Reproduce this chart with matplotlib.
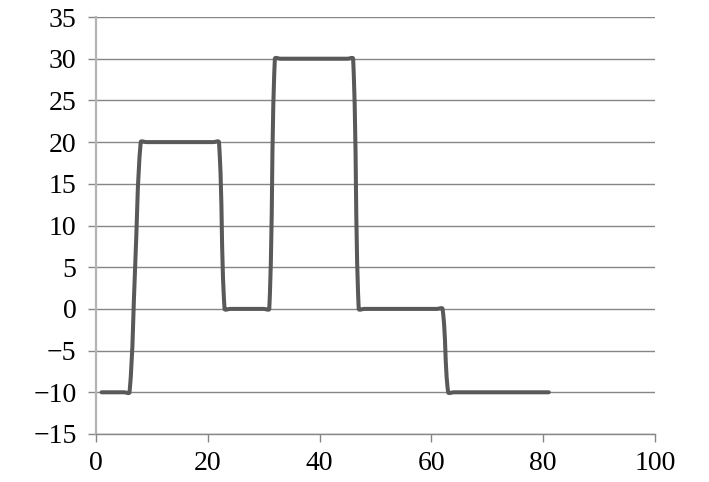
import numpy as np
import matplotlib
matplotlib.use("Agg")
import matplotlib.pyplot as plt
from matplotlib.path import Path
from matplotlib.patches import PathPatch

# Data
x_vals = list(range(1, 82))
y_vals = ([-10] * 6 + [5] + [20] * 15 + [0] * 9 + [30] * 15 + [0] * 16 + [-10] * 19)
x_ticks = [0, 20, 40, 60, 80, 100]
y_ticks = [-15, -10, -5, 0, 5, 10, 15, 20, 25, 30, 35]

plt.rcParams['font.family'] = ['Liberation Serif', 'DejaVu Serif']

fig = plt.figure(figsize=(7.09, 4.82), dpi=100)
ax = fig.add_axes([0.1354, 0.0996, 0.9238 - 0.1354, 0.9647 - 0.0996])
ax.set_xlim(0, 100)
ax.set_ylim(-15, 35)
ax.set_xticks(x_ticks)
ax.set_yticks(y_ticks)

grid_c = '#868686'
ax.grid(axis='y', color=grid_c, linewidth=1.0)
ax.set_axisbelow(True)
for s in ['top', 'right']:
    ax.spines[s].set_visible(False)
ax.spines['bottom'].set_color(grid_c)
ax.spines['bottom'].set_linewidth(1.0)
ax.spines['left'].set_color('#b4b4b4')
ax.spines['left'].set_linewidth(1.6)
ax.tick_params(axis='both', colors=grid_c, length=6, width=1.0, labelsize=20,
               labelcolor='black')
ax.tick_params(axis='y', pad=8)
ax.tick_params(axis='x', pad=6)

# Smoothed line (Excel-like) built as Bezier path through data points
fig.canvas.draw()
pts = ax.transData.transform(np.column_stack([x_vals, y_vals]).astype(float))
n = len(pts)
verts = [pts[0]]
codes = [Path.MOVETO]
tension = 1.0 / 3.0
def ctrl(i):
    p_prev = pts[max(i - 1, 0)]
    p_next = pts[min(i + 1, n - 1)]
    d1 = np.hypot(*(pts[i] - p_prev))
    d2 = np.hypot(*(p_next - pts[i]))
    T = p_next - p_prev
    tot = d1 + d2 if d1 + d2 > 0 else 1.0
    before = pts[i] - T * (d1 / tot) * tension
    after = pts[i] + T * (d2 / tot) * tension
    return before, after
ctrls = [ctrl(i) for i in range(n)]
for i in range(n - 1):
    verts += [ctrls[i][1], ctrls[i + 1][0], pts[i + 1]]
    codes += [Path.CURVE4] * 3
verts = ax.transData.inverted().transform(np.array(verts))
patch = PathPatch(Path(verts, codes), facecolor='none', edgecolor='#595959',
                  linewidth=2.9, capstyle='round', joinstyle='round')
ax.add_patch(patch)

fig.savefig('out.png', dpi=100)
